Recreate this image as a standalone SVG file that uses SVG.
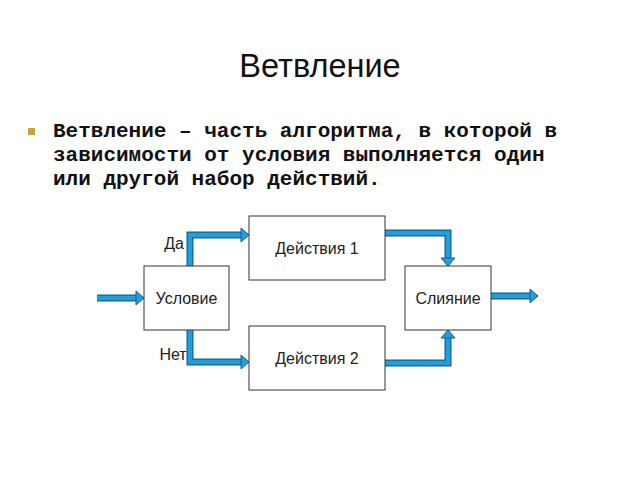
<svg xmlns="http://www.w3.org/2000/svg" width="640" height="480" viewBox="0 0 640 480">
<defs>
<style>
.box{fill:#fff;stroke:#333;stroke-width:1}
.lbl{font-family:"Liberation Sans",Arial,sans-serif;font-size:16px;fill:#222;text-anchor:middle}
.out{fill:none;stroke:#1b5f86;stroke-width:7;stroke-linejoin:miter}
.in{fill:none;stroke:#1fa0dc;stroke-width:4.5;stroke-linejoin:miter}
.head{fill:#1fa0dc;stroke:#1b5f86;stroke-width:1}
.body{font-family:"Liberation Mono","Courier New",monospace;font-size:21px;font-weight:bold;fill:#111}
</style>
</defs>
<rect width="640" height="480" fill="#fff"/>
<text x="320" y="77" font-family="Liberation Sans,Arial,sans-serif" font-size="32.5" text-anchor="middle" fill="#111">Ветвление</text>
<rect x="28" y="128" width="7" height="7" fill="#c9a43e"/>
<text class="body" x="53" y="137">Ветвление – часть алгоритма, в которой в</text>
<text class="body" x="53" y="161">зависимости от условия выполняется один</text>
<text class="body" x="53" y="185">или другой набор действий.</text>
<g id="connectors">
<path class="out" d="M97 298H136"/>
<path class="out" d="M190 266V235H241"/>
<path class="out" d="M190 330V362H241"/>
<path class="out" d="M385 233H448V258"/>
<path class="out" d="M385 363H448V338"/>
<path class="out" d="M491 296H530"/>
<path class="in" d="M97 298H137"/>
<path class="in" d="M190 266V235H242"/>
<path class="in" d="M190 330V362H242"/>
<path class="in" d="M385 233H448V259"/>
<path class="in" d="M385 363H448V337"/>
<path class="in" d="M491 296H531"/>
<polygon class="head" points="136,291 144,298 136,305"/>
<polygon class="head" points="241,228 249,235 241,242"/>
<polygon class="head" points="241,355 249,362 241,369"/>
<polygon class="head" points="441,258 448,266 455,258"/>
<polygon class="head" points="441,338 448,330 455,338"/>
<polygon class="head" points="530,289 538,296 530,303"/>
</g>
<g id="cond"><rect class="box" x="144" y="266" width="85" height="64"/><text class="lbl" x="186.5" y="304">Условие</text></g>
<g id="act1"><rect class="box" x="249" y="216" width="136" height="64"/><text class="lbl" x="317" y="254">Действия 1</text></g>
<g id="act2"><rect class="box" x="249" y="326" width="136" height="64"/><text class="lbl" x="317" y="364">Действия 2</text></g>
<g id="merge"><rect class="box" x="405" y="266" width="86" height="64"/><text class="lbl" x="448" y="304">Слияние</text></g>
<text class="lbl" x="174" y="249">Да</text>
<text class="lbl" x="173" y="360">Нет</text>
</svg>
